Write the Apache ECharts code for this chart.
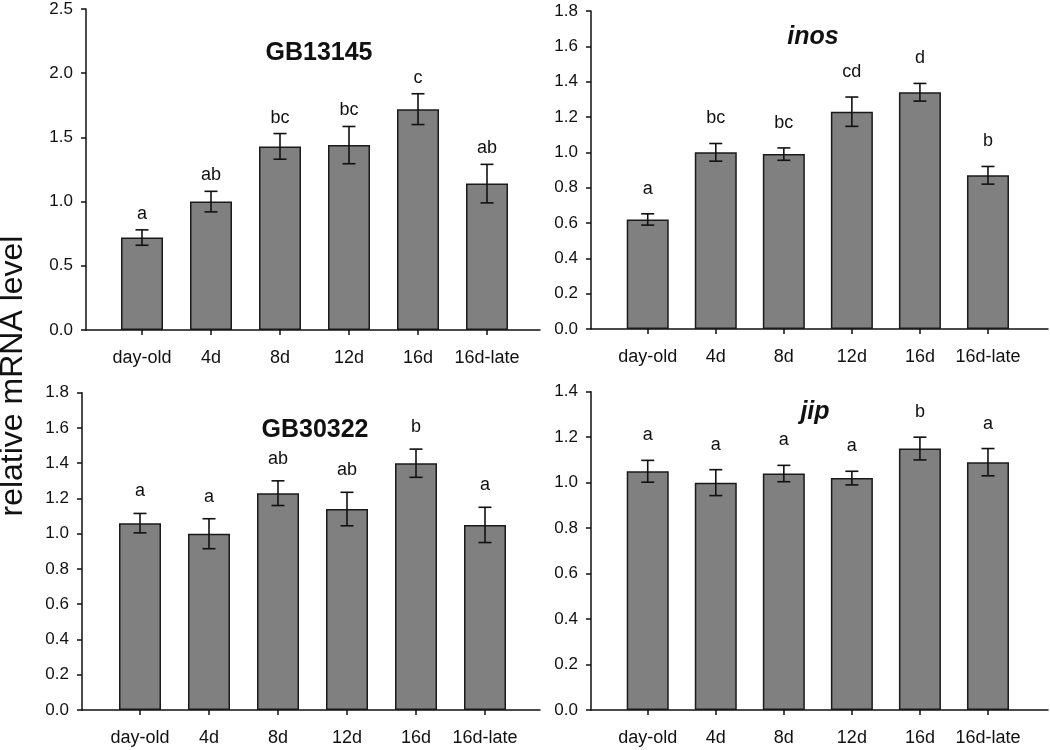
<!DOCTYPE html>
<html>
<head>
    <meta charset="utf-8">
    <title>relative mRNA level</title>
    <script src="https://cdn.jsdelivr.net/npm/echarts@6/dist/echarts.min.js"></script>
    <style>
      html, body { margin: 0; padding: 0; background: #fff; }
    </style>
</head>
<body>
    <div id="main" style="width: 1050px;height:750px;"></div>
    <script type="text/javascript">
    // data
    var categories = ['day-old', '4d', '8d', '12d', '16d', '16d-late'];

    var gb13145Mean = [0.72, 1.00, 1.43, 1.44, 1.72, 1.14];
    var gb13145Err  = [0.06, 0.08, 0.10, 0.145, 0.12, 0.15];
    var gb13145Sig  = ['a', 'ab', 'bc', 'bc', 'c', 'ab'];

    var inosMean = [0.62, 1.00, 0.99, 1.23, 1.34, 0.87];
    var inosErr  = [0.032, 0.05, 0.035, 0.083, 0.05, 0.05];
    var inosSig  = ['a', 'bc', 'bc', 'cd', 'd', 'b'];

    var gb30322Mean = [1.06, 1.00, 1.23, 1.14, 1.40, 1.05];
    var gb30322Err  = [0.055, 0.085, 0.07, 0.095, 0.08, 0.10];
    var gb30322Sig  = ['a', 'a', 'ab', 'ab', 'b', 'a'];

    var jipMean = [1.05, 1.00, 1.04, 1.02, 1.15, 1.09];
    var jipErr  = [0.048, 0.057, 0.036, 0.03, 0.05, 0.06];
    var jipSig  = ['a', 'a', 'a', 'a', 'b', 'a'];

    var FONT = '"Liberation Sans", Arial, sans-serif';
    var INK = '#111';

    // panel layout: y axis at axisX, frame to rightEdge, bars centred in [barL, barR]
    var panels = [
      { title: 'GB13145', italic: false, mean: gb13145Mean, err: gb13145Err, sig: gb13145Sig,
        max: 2.5, interval: 0.5, axisX: 86, rightEdge: 540, barL: 107.5, barR: 521.5,
        top: 9, bottom: 330, tx: 319, ty: 53, gap: 16 },
      { title: 'inos', italic: true, mean: inosMean, err: inosErr, sig: inosSig,
        max: 1.8, interval: 0.2, axisX: 591, rightEdge: 1048, barL: 613.7, barR: 1022,
        top: 11, bottom: 329, tx: 813, ty: 37, gap: 25 },
      { title: 'GB30322', italic: false, mean: gb30322Mean, err: gb30322Err, sig: gb30322Sig,
        max: 1.8, interval: 0.2, axisX: 82, rightEdge: 540, barL: 105.5, barR: 519.5,
        top: 392.7, bottom: 710, tx: 315, ty: 430, gap: 22 },
      { title: 'jip', italic: true, mean: jipMean, err: jipErr, sig: jipSig,
        max: 1.4, interval: 0.2, axisX: 591, rightEdge: 1048, barL: 613.7, barR: 1022,
        top: 391.7, bottom: 710, tx: 815, ty: 412, gap: 25 }
    ];

    var W = 1050;
    var grid = [], xAxis = [], yAxis = [], series = [], graphic = [];

    panels.forEach(function (p, i) {
      var frame = i * 2, bars = i * 2 + 1;
      // frame grid: carries the visible y axis and the long x axis line
      grid.push({ left: p.axisX, right: W - p.rightEdge, top: p.top, height: p.bottom - p.top });
      // bar grid: category band area
      grid.push({ left: p.barL, right: W - p.barR, top: p.top, height: p.bottom - p.top });

      xAxis.push({
        type: 'value', gridIndex: frame, min: 0, max: 1,
        axisLine: { show: true, lineStyle: { color: INK, width: 1.5 } },
        axisTick: { show: false }, axisLabel: { show: false }, splitLine: { show: false }
      });
      xAxis.push({
        type: 'category', gridIndex: bars, data: categories,
        axisLine: { show: false },
        axisTick: { show: true, alignWithLabel: true, interval: 0, length: 5, lineStyle: { color: INK, width: 1.5 } },
        axisLabel: { interval: 0, margin: 19, fontSize: 18, fontFamily: FONT, color: INK }
      });
      yAxis.push({
        type: 'value', gridIndex: frame, min: 0, max: p.max, interval: p.interval,
        axisLine: { show: true, lineStyle: { color: INK, width: 1.5 } },
        axisTick: { show: true, length: 5, lineStyle: { color: INK, width: 1.5 } },
        axisLabel: { margin: 13, fontSize: 17, fontFamily: FONT, color: INK,
          formatter: function (v) { return v.toFixed(1); } },
        splitLine: { show: false }
      });
      yAxis.push({
        type: 'value', gridIndex: bars, min: 0, max: p.max, show: false, splitLine: { show: false }
      });

      series.push({
        type: 'bar', xAxisIndex: bars, yAxisIndex: bars,
        data: p.mean, barWidth: 42, silent: true,
        itemStyle: { color: '#808080', borderColor: '#1a1a1a', borderWidth: 1.5 }
      });

      series.push({
        type: 'custom', xAxisIndex: bars, yAxisIndex: bars, silent: true, z: 5,
        data: p.mean.map(function (m, k) { return [k, m, p.err[k]]; }),
        renderItem: (function (panel) {
          return function (params, api) {
            var x = api.value(0), m = api.value(1), e = api.value(2);
            var hi = api.coord([x, m + e]);
            var lo = api.coord([x, m - e]);
            var hw = 6.5;
            var ls = { stroke: INK, lineWidth: 1.6 };
            return {
              type: 'group',
              children: [
                { type: 'line', shape: { x1: hi[0], y1: hi[1], x2: lo[0], y2: lo[1] }, style: ls },
                { type: 'line', shape: { x1: hi[0] - hw, y1: hi[1], x2: hi[0] + hw, y2: hi[1] }, style: ls },
                { type: 'line', shape: { x1: lo[0] - hw, y1: lo[1], x2: lo[0] + hw, y2: lo[1] }, style: ls },
                { type: 'text', x: hi[0], y: hi[1] - panel.gap,
                  style: { text: panel.sig[params.dataIndex], fill: INK,
                    font: '18px ' + FONT, align: 'center', verticalAlign: 'middle',
                    textAlign: 'center', textVerticalAlign: 'middle' } }
              ]
            };
          };
        })(p)
      });

      graphic.push({
        type: 'text', x: p.tx, y: p.ty, silent: true,
        style: { text: p.title, fill: INK,
          font: (p.italic ? 'italic ' : '') + 'bold 25px ' + FONT,
          align: 'center', verticalAlign: 'middle', textAlign: 'center', textVerticalAlign: 'middle' }
      });
    });

    // shared y axis title
    graphic.push({
      type: 'text', x: 13, y: 376, rotation: Math.PI / 2, silent: true,
      style: { text: 'relative mRNA level', fill: INK, font: '32px ' + FONT,
        align: 'center', verticalAlign: 'middle', textAlign: 'center', textVerticalAlign: 'middle' }
    });

    var chart = echarts.init(document.getElementById('main'));
    chart.setOption({
      backgroundColor: '#fff',
      animation: false,
      grid: grid,
      xAxis: xAxis,
      yAxis: yAxis,
      series: series,
      graphic: graphic
    });
    </script>
</body>
</html>
